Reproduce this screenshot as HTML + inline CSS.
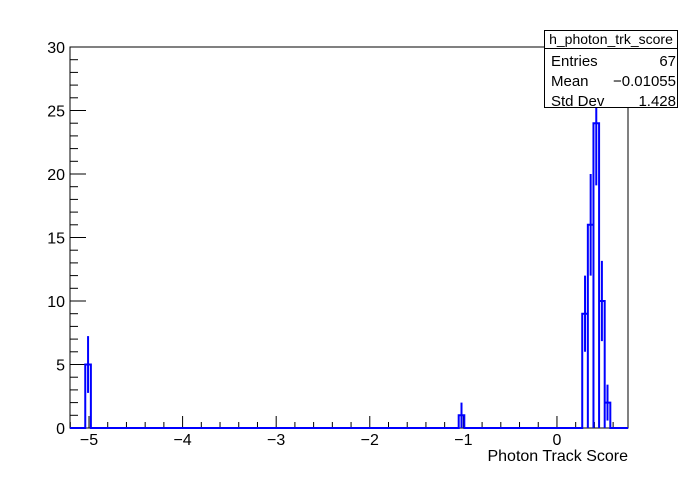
<!DOCTYPE html>
<html><head><meta charset="utf-8"><style>
body{margin:0;background:#fff;}
svg text{font-family:"Liberation Sans",sans-serif;}
</style></head><body>
<svg id="c" width="698" height="476" xmlns="http://www.w3.org/2000/svg">
<rect width="698" height="476" fill="#fff"/>
</svg>
<script>
const binLo=[-5.04,-1.05,0.27,0.33,0.39,0.45,0.51];
const binHi=[-4.98,-0.99,0.33,0.39,0.45,0.51,0.57];
const counts=[5,1,9,16,24,10,2];
const yTicks=[0,5,10,15,20,25,30];
const xTicks=[-5,-4,-3,-2,-1,0];
const xTickLabels=["\u22125","\u22124","\u22123","\u22122","\u22121","0"];
const statLabels=["Entries","Mean","Std Dev"];
const statValues=["67","\u22120.01055","1.428"];

const svg=document.getElementById('c');
const NS="http://www.w3.org/2000/svg";
const L=70,R=628,T=47,B=428,xmin=-5.203,xmax=0.759,ymin=0,ymax=30;
const X=v=>L+(v-xmin)/(xmax-xmin)*(R-L);
const Y=v=>B-(v-ymin)/(ymax-ymin)*(B-T);
function mk(tag,attrs,parent){const e=document.createElementNS(NS,tag);for(const k in attrs)e.setAttribute(k,attrs[k]);(parent||svg).appendChild(e);return e;}

const frame=mk('rect',{x:L,y:T,width:R-L,height:B-T,fill:'none',stroke:'#000','stroke-width':1});



const yax=mk('g',{});


for(let v=ymin;v<=ymax;v++){
  const major=v%5===0;
  mk('line',{x1:L,x2:L+(major?16:8),y1:Y(v),y2:Y(v),stroke:'#000','stroke-width':1},yax);
}
yTicks.forEach(v=>{
  const t=mk('text',{x:L-5,y:Y(v)+6,'text-anchor':'end','font-size':16},yax);
  t.textContent=v;
  
  
});
const xax=mk('g',{});


for(let i=-26;i<=3;i++){
  const v=i*0.2;
  if(v<xmin||v>xmax)continue;
  const major=i%5===0;
  mk('line',{x1:X(v),x2:X(v),y1:B,y2:B-(major?12:6),stroke:'#000','stroke-width':1},xax);
}
xTicks.forEach((v,i)=>{
  const t=mk('text',{x:X(v),y:B+17,'text-anchor':'middle','font-size':16},xax);
  t.textContent=xTickLabels[i];
  
  
});
const xt=mk('text',{x:R,y:461,'text-anchor':'end','font-size':16});
xt.textContent="Photon Track Score";



let d=`M${X(xmin)},${Y(0)}`;
binLo.forEach((lo,i)=>{
  d+=` L${X(lo)},${Y(0)} L${X(lo)},${Y(counts[i])} L${X(binHi[i])},${Y(counts[i])}`;
  const next=i+1<binLo.length?binLo[i+1]:null;
  if(next===null||Math.abs(next-binHi[i])>1e-9) d+=` L${X(binHi[i])},${Y(0)}`;
});
d+=` L${X(xmax)},${Y(0)}`;
const h=mk('path',{d:d,fill:'none',stroke:'#0000ff','stroke-width':2});


binLo.forEach((lo,i)=>{
  const c=(lo+binHi[i])/2,n=counts[i],e=Math.sqrt(n);
  const l=mk('line',{x1:X(c),x2:X(c),y1:Y(Math.max(0,n-e)),y2:Y(n+e),stroke:'#0000ff','stroke-width':2});
  
  
});

const sb=mk('g',{});


mk('rect',{x:544.5,y:30.5,width:133,height:77,fill:'#fff',stroke:'#000','stroke-width':1},sb);
mk('line',{x1:544,x2:678,y1:48.5,y2:48.5,stroke:'#000'},sb);
const st=mk('text',{x:611,y:44,'text-anchor':'middle','font-size':14},sb);
st.textContent="h_photon_trk_score";
statLabels.forEach((s,i)=>{
  const y=66+i*20;
  const a=mk('text',{x:551,y:y,'font-size':15},sb);a.textContent=s;
  const b=mk('text',{x:676,y:y,'text-anchor':'end','font-size':15},sb);b.textContent=statValues[i];
});
</script>
</body></html>
